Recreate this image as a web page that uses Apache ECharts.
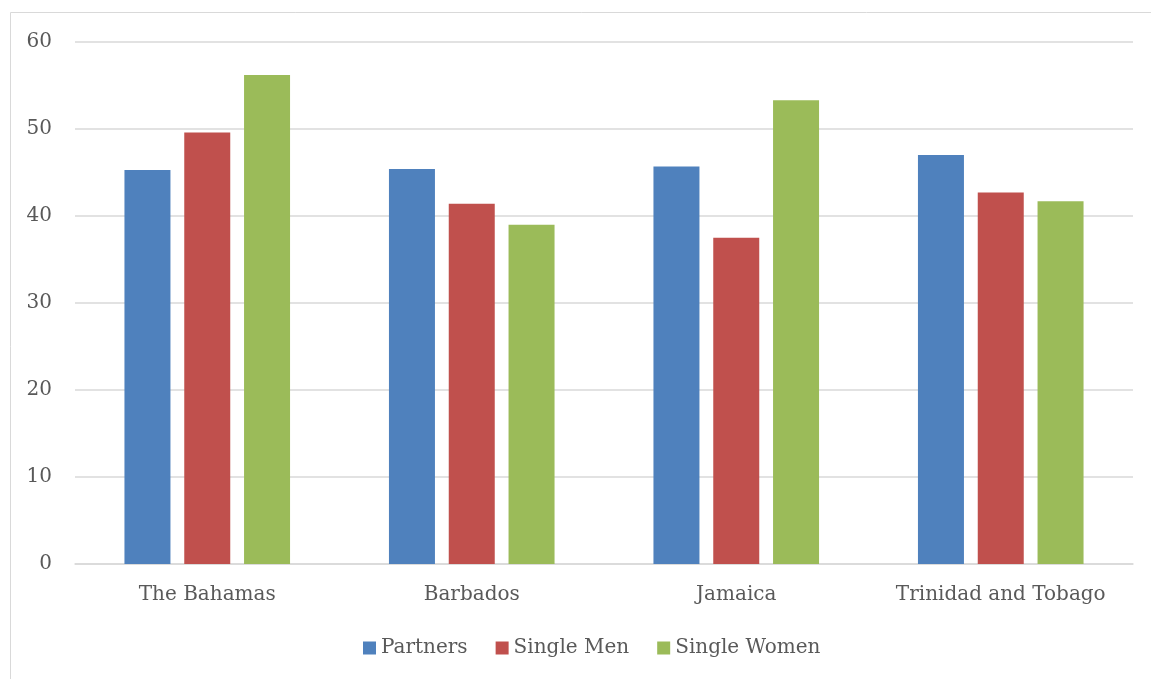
<!DOCTYPE html>
<html>
<head>
<meta charset="utf-8">
<script src="https://cdn.jsdelivr.net/npm/echarts@6/dist/echarts.min.js"></script>
<style>
html,body{margin:0;padding:0;background:#fff;}
#chart{width:1151px;height:679px;}
</style>
</head>
<body>
<div id="chart"></div>
<script>
// categories and series values
var countries = ['The Bahamas', 'Barbados', 'Jamaica', 'Trinidad and Tobago'];
var partners = [45.3, 45.4, 45.7, 47.0];
var singleMen = [49.6, 41.4, 37.5, 42.7];
var singleWomen = [56.2, 39.0, 53.3, 41.7];

var font = 'DejaVu Serif';

var option = {
    animation: false,
    textStyle: { fontFamily: font },
    graphic: [{
        type: 'rect',
        shape: { x: 10.5, y: 12.5, width: 1200, height: 700 },
        style: { fill: 'none', stroke: '#d9d9d9', lineWidth: 1 },
        silent: true
    }],
    grid: { left: 75, right: 18, top: 42, bottom: 115, containLabel: false },
    legend: {
        left: 358,
        bottom: 16,
        itemWidth: 13,
        itemHeight: 13,
        itemGap: 28,
        icon: 'rect',
        textStyle: { color: '#595959', fontSize: 20, fontFamily: font },
        data: ['Partners', 'Single Men', 'Single Women']
    },
    xAxis: {
        type: 'category',
        data: countries,
        axisTick: { show: false },
        axisLine: { lineStyle: { color: '#d9d9d9', width: 1.5 } },
        axisLabel: { color: '#595959', fontSize: 20, margin: 21, fontFamily: font, interval: 0 }
    },
    yAxis: {
        type: 'value',
        min: 0,
        max: 60,
        interval: 10,
        axisLine: { show: false },
        axisTick: { show: false },
        axisLabel: { color: '#595959', fontSize: 20, margin: 23, fontFamily: font },
        splitLine: { lineStyle: { color: '#d9d9d9', width: 1.5 } }
    },
    series: [
        { name: 'Partners', type: 'bar', data: partners, barWidth: 46, barGap: '30%',
          itemStyle: { color: '#4F81BD' } },
        { name: 'Single Men', type: 'bar', data: singleMen, barWidth: 46, barGap: '30%',
          itemStyle: { color: '#C0504D' } },
        { name: 'Single Women', type: 'bar', data: singleWomen, barWidth: 46, barGap: '30%',
          itemStyle: { color: '#9BBB59' } }
    ]
};

var myChart = echarts.init(document.getElementById('chart'));
myChart.setOption(option);
</script>
</body>
</html>
